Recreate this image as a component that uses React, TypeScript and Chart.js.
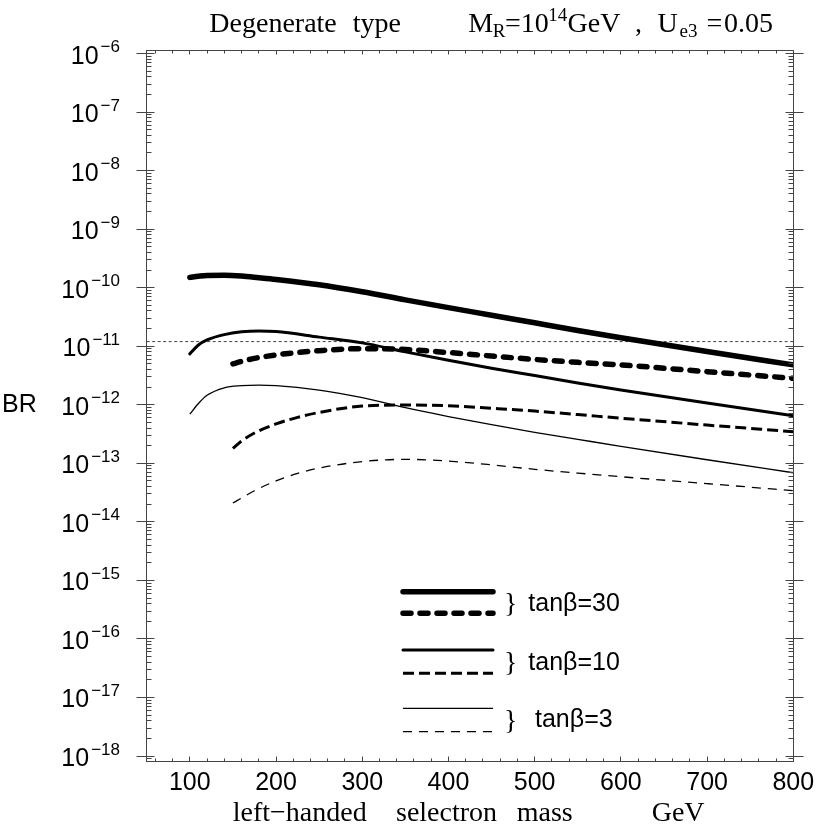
import React, { useEffect, useRef } from "react";
import { Chart, registerables } from "chart.js";

Chart.register(...registerables);

const W = 817;
const H = 828;
const SANS = '"Liberation Sans", Arial, Helvetica, sans-serif';
const SERIF = '"Liberation Serif", "Times New Roman", serif';

// ---- data ----
const massSolid = [100, 110, 120, 140, 160, 180, 200, 250, 300, 350, 400, 450, 500, 550, 600, 700, 800];
const brTan30Solid = [1.5e-10, 1.57e-10, 1.62e-10, 1.63e-10, 1.58e-10, 1.48e-10, 1.38e-10, 1.12e-10, 8.5e-11, 6.2e-11, 4.57e-11, 3.39e-11, 2.51e-11, 1.86e-11, 1.4e-11, 8.1e-12, 4.8e-12];
const brTan10Solid = [7.4e-12, 1.05e-11, 1.28e-11, 1.58e-11, 1.76e-11, 1.82e-11, 1.78e-11, 1.43e-11, 1.14e-11, 8.0e-12, 5.75e-12, 4.2e-12, 3.15e-12, 2.35e-12, 1.79e-12, 1.07e-12, 6.5e-13];
const brTan3Solid = [6.9e-13, 1.05e-12, 1.45e-12, 1.95e-12, 2.12e-12, 2.17e-12, 2.13e-12, 1.78e-12, 1.32e-12, 8.9e-13, 6.3e-13, 4.57e-13, 3.39e-13, 2.57e-13, 1.95e-13, 1.15e-13, 6.9e-14];

const massDashed = [150, 160, 175, 200, 225, 250, 300, 350, 400, 450, 500, 550, 600, 700, 800];
const brTan30Dashed = [5.0e-12, 5.5e-12, 6.2e-12, 7.1e-12, 7.8e-12, 8.4e-12, 9.1e-12, 8.8e-12, 7.8e-12, 6.8e-12, 5.95e-12, 5.3e-12, 4.8e-12, 3.68e-12, 2.83e-12];
const brTan10Dashed = [1.8e-13, 2.4e-13, 3.3e-13, 4.7e-13, 6.1e-13, 7.4e-13, 9.5e-13, 9.9e-13, 9.6e-13, 8.7e-13, 7.8e-13, 6.8e-13, 5.9e-13, 4.5e-13, 3.47e-13];
const brTan3Dashed = [2.1e-14, 2.55e-14, 3.4e-14, 5.0e-14, 6.7e-14, 8.3e-14, 1.07e-13, 1.17e-13, 1.09e-13, 9.4e-14, 7.9e-14, 6.8e-14, 5.9e-14, 4.5e-14, 3.4e-14];

const megMass = [50, 800];
const megBound = [1.2e-11, 1.2e-11];

const yTickExponents = [-6, -7, -8, -9, -10, -11, -12, -13, -14, -15, -16, -17, -18];
const xTickLabels = [100, 200, 300, 400, 500, 600, 700, 800];
const legendLabels = ["tan\u03b2=30", "tan\u03b2=10", "tan\u03b2=3"];

const pts = (xs: number[], ys: number[]) => xs.map((x, i) => ({ x, y: ys[i] }));

function txt(ctx: CanvasRenderingContext2D, s: string, x: number, y: number, font: string, align: CanvasTextAlign = "left") {
  ctx.font = font;
  ctx.textAlign = align;
  ctx.textBaseline = "alphabetic";
  ctx.fillText(s, x, y);
}

function line(ctx: CanvasRenderingContext2D, x1: number, y1: number, x2: number, y2: number) {
  ctx.beginPath();
  ctx.moveTo(x1, y1);
  ctx.lineTo(x2, y2);
  ctx.stroke();
}

const snap = (v: number) => Math.round(v - 0.5) + 0.5;

const framePlugin = {
  id: "framePlugin",
  afterDraw(chart: any) {
    const ctx: CanvasRenderingContext2D = chart.ctx;
    const ca = chart.chartArea;
    const L = snap(ca.left);
    const R = snap(ca.right);
    const T = snap(ca.top);
    const B = snap(ca.bottom);
    const xs = chart.scales.x;
    const ys = chart.scales.y;
    ctx.save();
    ctx.fillStyle = "#000";
    ctx.strokeStyle = "#444";
    ctx.lineWidth = 1;
    ctx.setLineDash([]);
    ctx.lineCap = "butt";
    // frame
    ctx.strokeRect(L, T, R - L, B - T);

    // y ticks (log)
    for (let e = -19; e <= -6; e++) {
      for (let k = 2; k <= 9; k++) {
        const v = k * Math.pow(10, e);
        const yy = snap(ys.getPixelForValue(v));
        if (yy < T || yy > B) continue;
        line(ctx, L, yy, L + 5, yy);
        line(ctx, R - 5, yy, R, yy);
      }
    }
    for (const e of yTickExponents) {
      const yRaw = ys.getPixelForValue(Math.pow(10, e));
      const y = snap(yRaw);
      line(ctx, L - 10, y, L + 8, y);
      line(ctx, R - 8, y, R + 10, y);
      // tick label 10^e
      const exp = "\u2212" + String(-e);
      ctx.font = `17px ${SANS}`;
      const we = ctx.measureText(exp).width;
      const xe = 120 - we;
      txt(ctx, exp, xe, yRaw - 1.5, `17px ${SANS}`);
      txt(ctx, "10", xe - 2, yRaw + 10, `25px ${SANS}`, "right");
    }

    // x ticks
    for (let v = 60; v <= 800; v += 20) {
      const x = snap(xs.getPixelForValue(v));
      const major = v % 100 === 0;
      line(ctx, x, B, x, B - (major ? 5 : 3));
      line(ctx, x, T, x, T + (major ? 4 : 3));
    }
    for (const v of xTickLabels) {
      const x = xs.getPixelForValue(v);
      txt(ctx, String(v), x, 790, `25px ${SANS}`, "center");
    }

    // y axis title
    txt(ctx, "BR", 2, 412, `25px ${SANS}`);

    // x axis title
    const sf = `28px ${SERIF}`;
    txt(ctx, "left\u2212handed", 232.7, 821, sf);
    txt(ctx, "selectron", 396, 821, sf);
    txt(ctx, "mass", 516.7, 821, sf);
    txt(ctx, "GeV", 651.7, 821, sf);

    // title
    const sub = `19px ${SERIF}`;
    txt(ctx, "Degenerate", 209.3, 32.3, sf);
    txt(ctx, "type", 352.7, 32.3, sf);
    txt(ctx, "M", 468.3, 32.3, sf);
    txt(ctx, "R", 492.7, 37.3, sub);
    txt(ctx, "=", 505, 32.3, sf);
    txt(ctx, "10", 520.7, 32.3, sf);
    txt(ctx, "14", 548.3, 20.7, sub);
    txt(ctx, "GeV", 567.5, 32.3, sf);
    txt(ctx, ",", 635, 32.3, sf);
    txt(ctx, "U", 657.5, 32.3, sf);
    txt(ctx, "e3", 679.5, 37.3, sub);
    txt(ctx, "=", 706.5, 32.3, sf);
    txt(ctx, "0.05", 724, 32.3, sf);

    // legend
    const ds = chart.data.datasets;
    const rows = [
      [591.7, 613.3],
      [650, 673.3],
      [708.3, 731.7],
    ];
    const textPos = [
      [528.3, 610.7],
      [528.3, 670],
      [535, 726.7],
    ];
    for (let g = 0; g < 3; g++) {
      for (let j = 0; j < 2; j++) {
        const d = ds[g * 2 + j];
        ctx.strokeStyle = d.borderColor;
        ctx.lineWidth = d.borderWidth;
        ctx.setLineDash(d.borderDash || []);
        ctx.lineCap = d.borderCapStyle || "butt";
        line(ctx, 403, rows[g][j], 493, rows[g][j]);
      }
      ctx.setLineDash([]);
      ctx.lineCap = "butt";
      const mid = (rows[g][0] + rows[g][1]) / 2;
      txt(ctx, "}", 504, mid + 9, `28px ${SERIF}`);
      txt(ctx, legendLabels[g], textPos[g][0], textPos[g][1], `25px ${SANS}`);
    }
    ctx.restore();
  },
};

export default function App() {
  const ref = useRef<HTMLCanvasElement>(null);
  useEffect(() => {
    if (!ref.current) return;
    const base = { pointRadius: 0, fill: false, borderColor: "#000", cubicInterpolationMode: "monotone" as const, borderJoinStyle: "round" as const };
    const chart = new Chart(ref.current, {
      type: "line",
      data: {
        datasets: [
          { ...base, label: "tan30 solid", data: pts(massSolid, brTan30Solid), borderWidth: 5.5, borderCapStyle: "round" },
          { ...base, label: "tan30 dashed", data: pts(massDashed, brTan30Dashed), borderWidth: 5.5, borderDash: [8, 9], borderCapStyle: "round" },
          { ...base, label: "tan10 solid", data: pts(massSolid, brTan10Solid), borderWidth: 3, borderCapStyle: "round" },
          { ...base, label: "tan10 dashed", data: pts(massDashed, brTan10Dashed), borderWidth: 3, borderDash: [11, 5], borderCapStyle: "butt" },
          { ...base, label: "tan3 solid", data: pts(massSolid, brTan3Solid), borderWidth: 1.3, borderCapStyle: "butt" },
          { ...base, label: "tan3 dashed", data: pts(massDashed, brTan3Dashed), borderWidth: 1.3, borderDash: [9, 7], borderCapStyle: "butt" },
          { ...base, label: "MEG", data: pts(megMass, megBound), borderWidth: 1, borderColor: "#444", borderDash: [3, 2.5], cubicInterpolationMode: "default" },
        ] as any,
      },
      options: {
        responsive: false,
        animation: false,
        parsing: false,
        normalized: true,
        layout: { padding: { left: 146.7, right: W - 793.3, top: 50, bottom: H - 761 } },
        scales: {
          x: { type: "linear", min: 50, max: 800, display: false },
          y: { type: "logarithmic", min: Math.pow(10, -18.085), max: Math.pow(10, -5.94), display: false },
        },
        plugins: { legend: { display: false }, tooltip: { enabled: false }, title: { display: false } },
        elements: { line: { tension: 0 } },
      } as any,
      plugins: [framePlugin],
    });
    return () => chart.destroy();
  }, []);
  return (
    <div style={{ position: "absolute", left: 0, top: 0, width: W, height: H, background: "#fff" }}>
      <canvas ref={ref} width={W} height={H} style={{ display: "block" }} />
    </div>
  );
}
